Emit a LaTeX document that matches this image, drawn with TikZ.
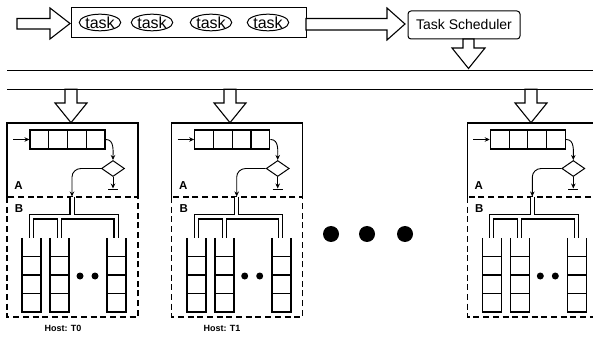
\documentclass[tikz,border=0pt]{standalone}
\usepackage{fontspec}
\setmainfont{Liberation Sans}
\usetikzlibrary{arrows.meta,shapes.geometric}
\begin{document}
\begin{tikzpicture}[x=1pt,y=-1pt,
  boxline/.style={draw,line width=1.1pt},
  hollow/.style={draw,line width=1.1pt,fill=white,line join=miter},
  thinarrow/.style={draw,line width=0.9pt,-{Stealth[length=5pt,width=4.5pt]}},
  pipe/.style={draw,line width=1.1pt,double=white,double distance=3pt,line join=miter},
  colwall/.style={draw,line width=1.6pt},
  cellline/.style={draw,line width=1.1pt},
  dashbox/.style={draw,line width=1.1pt,dash pattern=on 6pt off 3.7pt},
  tasknode/.style={ellipse,draw,line width=1pt,minimum width=41pt,minimum height=15pt,inner sep=0pt,font=\fontsize{16}{16}\selectfont},
  lbl/.style={font=\bfseries\fontsize{11.5}{11.5}\selectfont,inner sep=0pt},
  hostlbl/.style={font=\bfseries\fontsize{9}{9}\selectfont,inner sep=0pt}]
\clip (0,0) rectangle (593,344);

% task queue box
\node[boxline,minimum width=235pt,minimum height=30pt,inner sep=0pt,anchor=north west] (tasks) at (71,7) {};
\node[tasknode] (t1) at (100,22.5) {task};
\node[tasknode] (t2) at (152,22.5) {task};
\node[tasknode] (t3) at (211,22.5) {task};
\node[tasknode] (t4) at (268,22.5) {task};

% scheduler
\node[draw,rounded corners=3pt,line width=1pt,minimum width=112pt,minimum height=28pt,inner sep=0pt,font=\fontsize{14}{14}\selectfont] (sched) at (464,25) {Task Scheduler};

% hollow arrows
\draw[hollow] (17,18.5) -- (50,18.5) -- (50,8) -- (70,23.5) -- (50,39) -- (50,29) -- (17,29) -- cycle;
\draw[hollow] (306,18.5) -- (387,18.5) -- (387,8) -- (405,24) -- (387,40) -- (387,30) -- (306,30) -- cycle;
\draw[hollow] (463,39) -- (463,48) -- (452,48) -- (468.5,68.5) -- (485,48) -- (474,48) -- (474,39) -- cycle;

% bus lines
\draw[line width=1.3pt] (7,70.7) -- (600,70.7);
\draw[line width=1.3pt] (7,89.3) -- (600,89.3);

% hosts
\foreach \i/\dx/\ax in {0/0/71, 1/164.7/230, 2/460.3/531}{
  \draw[hollow] (\ax-6,89.3) -- (\ax-6,103) -- (\ax-16,103) -- (\ax,122.7) -- (\ax+16,103) -- (\ax+6,103) -- (\ax+6,89.3) -- cycle;
  \begin{scope}[xshift=\dx pt]
    \draw[boxline] (7,197) -- (7,123) -- (138,123) -- (138,197);
    \draw[dashbox] (7,197) rectangle (138,317);
    \node[lbl] (la\i) at (18.5,186) {A};
    \node[lbl] (lb\i) at (19,208.3) {B};
    % queue
    \node[cellline,minimum width=75pt,minimum height=19pt,inner sep=0pt] (q\i) at (67.5,139.5) {};
    \foreach \k in {1,2,3}{\draw[cellline] (30+18.75*\k,130) -- (30+18.75*\k,149);}
    \coordinate (in\i) at (13,139.5);
    \draw[thinarrow] (in\i) -- (q\i.west);
    % decision
    \node[diamond,draw,line width=1pt,minimum width=23pt,minimum height=16pt,inner sep=0pt] (d\i) at (113,168.5) {};
    \draw[thinarrow] (q\i.east) -- (106,139.5) to[out=0,in=90] (d\i.north);
    \coordinate (g\i) at (113,188.5);
    \draw[thinarrow] (d\i.south) -- (g\i);
    \draw[line width=1.1pt] (108,189.5) -- (118,189.5);
    \coordinate (p\i) at (72,196.5);
    \draw[thinarrow] (d\i.west) -- (81,168.5) to[out=180,in=90] (72,177) -- (p\i);
    % pipes
    \draw[pipe] (72,197) -- (72,217) (31.5,238) -- (31.5,217) -- (116,217) -- (116,238) (59.5,217) -- (59.5,238);
    % columns
    \foreach \a/\b in {22/41, 50/69, 107/126}{
      \draw[colwall] (\a,238) -- (\a,312) -- (\b,312) -- (\b,238);
      \foreach \y in {256.5,275,293.5}{\draw[cellline] (\a,\y) -- (\b,\y);}
    }
    \fill (80,276) circle (3.5pt);
    \fill (95,276) circle (3.5pt);
  \end{scope}
}

\node[hostlbl] (h0) at (63,328) {Host: T0};
\node[hostlbl] (h1) at (222,328) {Host: T1};

\fill (331,234) circle (8pt);
\fill (367,234) circle (8pt);
\fill (405,234) circle (8pt);
\end{tikzpicture}
\end{document}
